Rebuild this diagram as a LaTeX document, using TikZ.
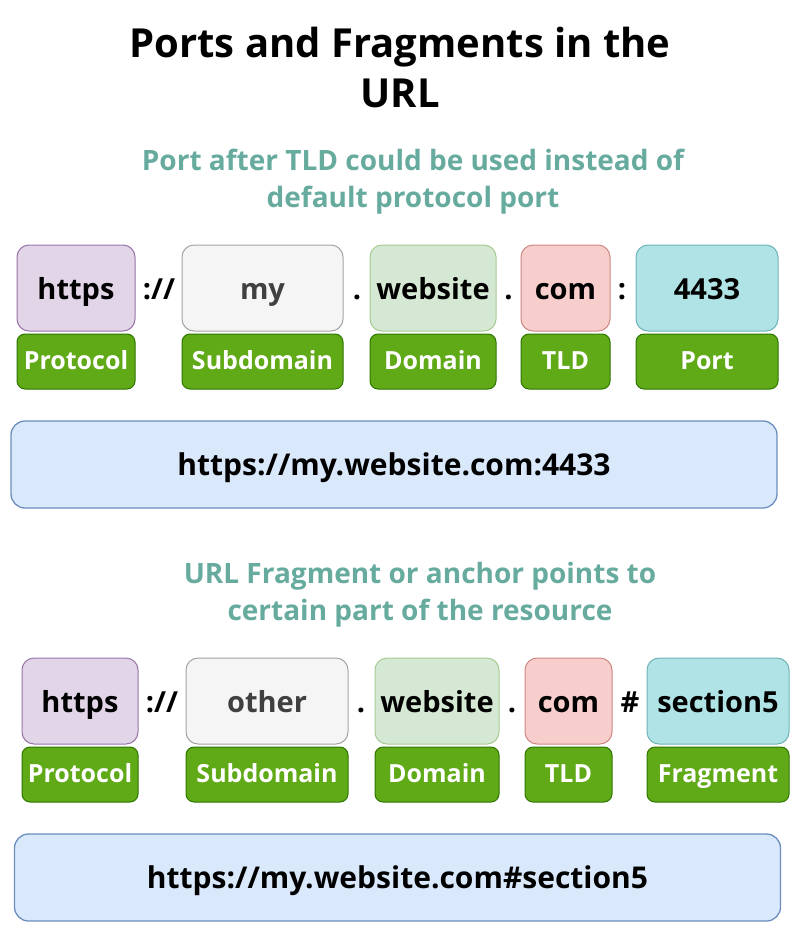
\documentclass[tikz,border=0pt]{standalone}
\usepackage{fontspec}
\setmainfont{Open Sans}
\usepackage{tikz}
\usepackage{xcolor}
\usetikzlibrary{shapes, positioning}

\definecolor{protofill}{HTML}{E1D5E7}
\definecolor{protodraw}{HTML}{9673A6}
\definecolor{subfill}{HTML}{F5F5F5}
\definecolor{subdraw}{HTML}{666666}
\definecolor{domfill}{HTML}{D5E8D4}
\definecolor{domdraw}{HTML}{82B366}
\definecolor{tldfill}{HTML}{F8CECC}
\definecolor{tlddraw}{HTML}{B85450}
\definecolor{portfill}{HTML}{B0E3E6}
\definecolor{portdraw}{HTML}{0E8088}
\definecolor{barfill}{HTML}{DAE8FC}
\definecolor{bardraw}{HTML}{6C8EBF}
\definecolor{tagfill}{HTML}{60A917}
\definecolor{tagdraw}{HTML}{2D7600}
\definecolor{notecol}{HTML}{67AB9F}

\tikzset{
    part/.style={draw, rounded corners=12pt, line width=1pt, minimum height=86pt,
        inner sep=0pt, text height=24pt, text depth=2pt,
        font=\fontsize{29}{32}\selectfont\bfseries},
    tag/.style={draw=tagdraw, fill=tagfill, rounded corners=8pt, line width=1pt,
        minimum height=55pt, inner sep=0pt, text=white, text height=17pt, text depth=2pt,
        font=\fontsize{25}{28}\selectfont\bfseries},
    urlbar/.style={draw=bardraw, fill=barfill, rounded corners=14pt, line width=1.3pt,
        minimum width=766pt, minimum height=87pt, inner sep=0pt, text height=23pt, text depth=2pt,
        font=\fontsize{30}{33}\selectfont\bfseries},
    sep/.style={inner sep=0pt, text height=24pt, text depth=2pt,
        font=\fontsize{29}{32}\selectfont\bfseries},
    note/.style={text=notecol, align=center, font=\fontsize{28}{37}\selectfont\bfseries}
}

\begin{document}
\begin{tikzpicture}[x=1pt, y=-1pt]
        \useasboundingbox (0, 0) rectangle (800, 938);

        \node[align=center, font=\fontsize{40}{50}\selectfont\bfseries] (title) at (400, 67) {Ports and Fragments in the\\URL};
        \node[note] (note1) at (413, 182) {Port after TLD could be used instead of\\default protocol port};

        % first url
        \node[part, fill=protofill, draw=protodraw, minimum width=118pt] (proto1) at (76, 288) {https};
        \node[part, fill=subfill, draw=subdraw!60, minimum width=161pt] (sub1) at (262.5, 288) {\color{black!75}my};
        \node[part, fill=domfill, draw=domdraw!70, minimum width=126pt] (dom1) at (433, 288) {website};
        \node[part, fill=tldfill, draw=tlddraw!70, minimum width=89pt] (tld1) at (565.5, 288) {com};
        \node[part, fill=portfill, draw=portdraw!60, minimum width=142pt] (port1) at (707, 288) {4433};

        \node[sep] (sa1) at (159, 288) {://};
        \node[sep] (sb1) at (357, 288) {.};
        \node[sep] (sc1) at (508.5, 288) {.};
        \node[sep] (sd1) at (622, 288) {:};

        \node[tag, minimum width=118pt, below=2pt of proto1] (tproto1) {Protocol};
        \node[tag, minimum width=161pt, below=2pt of sub1] (tsub1) {Subdomain};
        \node[tag, minimum width=126pt, below=2pt of dom1] (tdom1) {Domain};
        \node[tag, minimum width=89pt, below=2pt of tld1] (ttld1) {TLD};
        \node[tag, minimum width=142pt, below=2pt of port1] (tport1) {Port};

        \node[urlbar] (bar1) at (394, 464.5) {https://my.website.com:4433};

        \node[note] (note2) at (420, 595) {URL Fragment or anchor points to\\certain part of the resource};

        % second url
        \node[part, fill=protofill, draw=protodraw, minimum width=116pt] (proto2) at (80, 701) {https};
        \node[part, fill=subfill, draw=subdraw!60, minimum width=162pt] (sub2) at (267, 701) {\color{black!75}other};
        \node[part, fill=domfill, draw=domdraw!70, minimum width=124pt] (dom2) at (437, 701) {website};
        \node[part, fill=tldfill, draw=tlddraw!70, minimum width=87pt] (tld2) at (568.5, 701) {com};
        \node[part, fill=portfill, draw=portdraw!60, minimum width=142pt] (frag2) at (718, 701) {section5};

        \node[sep] (sa2) at (162, 701) {://};
        \node[sep] (sb2) at (361, 701) {.};
        \node[sep] (sc2) at (512, 701) {.};
        \node[sep] (sd2) at (630, 701) {\#};

        \node[tag, minimum width=116pt, below=2pt of proto2] (tproto2) {Protocol};
        \node[tag, minimum width=162pt, below=2pt of sub2] (tsub2) {Subdomain};
        \node[tag, minimum width=124pt, below=2pt of dom2] (tdom2) {Domain};
        \node[tag, minimum width=87pt, below=2pt of tld2] (ttld2) {TLD};
        \node[tag, minimum width=142pt, below=2pt of frag2] (tfrag2) {Fragment};

        \node[urlbar] (bar2) at (397.5, 877.5) {https://my.website.com\#section5};
    \end{tikzpicture}
\end{document}
